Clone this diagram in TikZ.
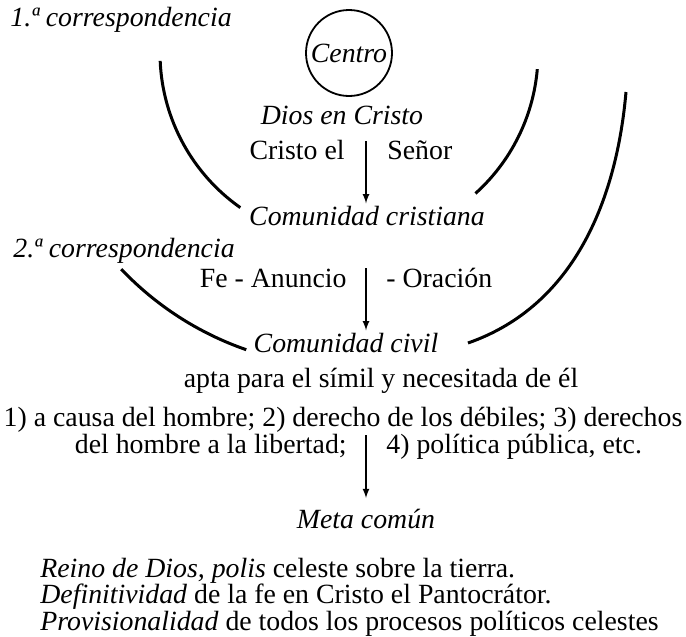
\documentclass[tikz,border=0pt]{standalone}
\usepackage{fontspec}
\setmainfont{Liberation Serif}
\usetikzlibrary{arrows}

\begin{document}
\begin{tikzpicture}[x=0.5pt,y=-0.5pt,
        every node/.style={inner sep=0pt,font=\fontsize{13.9}{15}\selectfont},
        tx/.style={anchor=base},
        itx/.style={anchor=base,font=\fontsize{13.9}{15}\selectfont\itshape},
        arco/.style={line width=1.5pt},
        flecha/.style={-latex,line width=0.6pt,shorten >=1pt}]
    \useasboundingbox (0,0) rectangle (686,637);

    % centro y primera correspondencia
    \node[itx,anchor=base west] (corr1) at (10,26) {1.ª correspondencia};
    \node[draw,circle,line width=0.9pt,minimum size=43pt,
          font=\fontsize{13.9}{15}\selectfont\itshape] (centro) at (349,53) {Centro};
    \node[itx] (dios) at (342,124) {Dios en Cristo};
    \node[tx,anchor=base east] (cristo) at (345,159) {Cristo el};
    \node[tx,anchor=base west] (senor) at (387,159) {Señor};
    \coordinate (f1) at (366,141);
    \node[itx] (ccrist) at (367,225) {Comunidad cristiana};
    \draw[flecha] (f1) -- (ccrist.north -| f1);

    % segunda correspondencia
    \node[itx,anchor=base west] (corr2) at (13,257) {2.ª correspondencia};
    \node[tx,anchor=base east] (fe) at (347,287) {Fe - Anuncio};
    \node[tx,anchor=base west] (oracion) at (386,287) {- Oración};
    \coordinate (f2) at (366,268);
    \node[itx] (ccivil) at (346,352) {Comunidad civil};
    \draw[flecha] (f2) -- (ccivil.north -| f2);

    % arcos
    \draw[arco] (centro.center) ++(177.6:189) arc[start angle=177.6, end angle=125.1, radius=189];
    \draw[arco] (centro.center) ++(4.9:189) arc[start angle=4.9, end angle=48, radius=189];
    \draw[arco] (centro.center) ++(136.5:314) arc[start angle=136.5, end angle=109.1, radius=314];
    \draw[arco] (626,92) .. controls (617,195) and (577,305) .. (468,343);

    \node[tx] (apta) at (381,387) {apta para el símil y necesitada de él};
    \node[tx] (causa) at (343,426) {1) a causa del hombre; 2) derecho de los débiles; 3) derechos};
    \node[tx,anchor=base east] (libertad) at (347,453) {del hombre a la libertad;};
    \node[tx,anchor=base west] (politica) at (386,453) {4) política pública, etc.};
    \coordinate (f3) at (366,435);
    \node[itx] (meta) at (366,528) {Meta común};
    \draw[flecha] (f3) -- (366,500);

    \node[tx,anchor=base west] (reino) at (40,577) {\textit{Reino de Dios, polis} celeste sobre la tierra.};
    \node[tx,anchor=base west] (defin) at (40,603) {\textit{Definitividad} de la fe en Cristo el Pantocrátor.};
    \node[tx,anchor=base west] (provis) at (40,630) {\textit{Provisionalidad} de todos los procesos políticos celestes};
\end{tikzpicture}
\end{document}
